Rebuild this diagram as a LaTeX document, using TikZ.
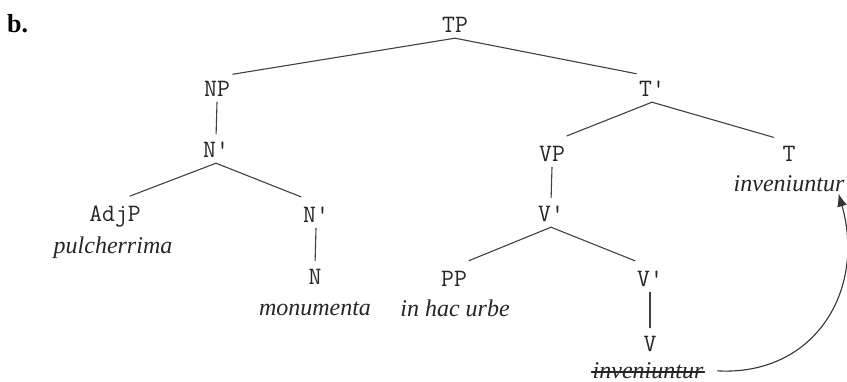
\documentclass[tikz,border=0pt]{standalone}
\usepackage{fontspec}
\setmainfont{Liberation Serif}
\usetikzlibrary{arrows.meta}

\begin{document}
\begin{tikzpicture}[line cap=round,line join=round,x=1pt,y=-1pt,
  cat/.style={anchor=base,text=black!85,font=\ttfamily\fontsize{25}{25}\selectfont,
    text height=15pt,text depth=0pt,inner xsep=1pt,inner ysep=5pt},
  word/.style={anchor=base,text=black!85,font=\itshape\fontsize{24}{24}\selectfont,inner sep=1pt},
  branch/.style={draw=black!75,line width=1.1pt,shorten >=16pt},
  stem/.style={draw=black!75,line width=1.1pt,shorten >=4pt}]
\useasboundingbox (0,0) rectangle (847,382);
\node[anchor=base west,inner sep=0pt,font=\bfseries\fontsize{26}{26}\selectfont] (label) at (7,33) {b.};
% categories, row by row
\node[cat] (tp) at (455,33) {TP};
\node[cat] (np) at (217,97) {NP};
\node[cat] (tbar) at (652,97) {T'};
\node[cat] (nbarA) at (216,158) {N'};
\node[cat] (vp) at (552,162) {VP};
\node[cat] (t) at (789,162) {T};
\node[cat] (adjp) at (115,222) {AdjP};
\node[cat] (nbarB) at (316,223) {N'};
\node[cat] (vbarA) at (551,222) {V'};
\node[cat] (n) at (315,285) {N};
\node[cat] (pp) at (454,287) {PP};
\node[cat] (vbarB) at (650,287) {V'};
\node[cat] (v) at (650,352) {V};
% words
\node[word] (tword) at (789,192) {inveniuntur};
\node[word] (adjword) at (113,254) {pulcherrima};
\node[word] (nword) at (315,316) {monumenta};
\node[word] (ppword) at (455,317) {in hac urbe};
\node[word] (vword) at (648,378) {inveniuntur};
\draw[black!85,line width=1.2pt] ([yshift=6pt]vword.base west) -- ([yshift=6pt]vword.base east);
% branches
\draw[branch] (tp.south) -- (np.north);
\draw[branch] (tp.south) -- (tbar.north);
\draw[stem] (np.south) -- (nbarA.north);
\draw[branch] (nbarA.south) -- (adjp.north);
\draw[branch] (nbarA.south) -- (nbarB.north);
\draw[stem] (nbarB.south) -- (n.north);
\draw[branch] (tbar.south) -- (vp.north);
\draw[branch] (tbar.south) -- (t.north);
\draw[stem] (vp.south) -- (vbarA.north);
\draw[branch] (vbarA.south) -- (pp.north);
\draw[branch] (vbarA.south) -- (vbarB.north);
\draw[stem] (vbarB.south) -- (v.north);
% movement of the verb
\draw[black!80,line width=1.1pt,shorten <=13pt,-{Latex[length=13pt,width=10pt]}]
  (vword.east) .. controls (815,376) and (866,290) .. ([xshift=-7pt]tword.south east);
\end{tikzpicture}
\end{document}
